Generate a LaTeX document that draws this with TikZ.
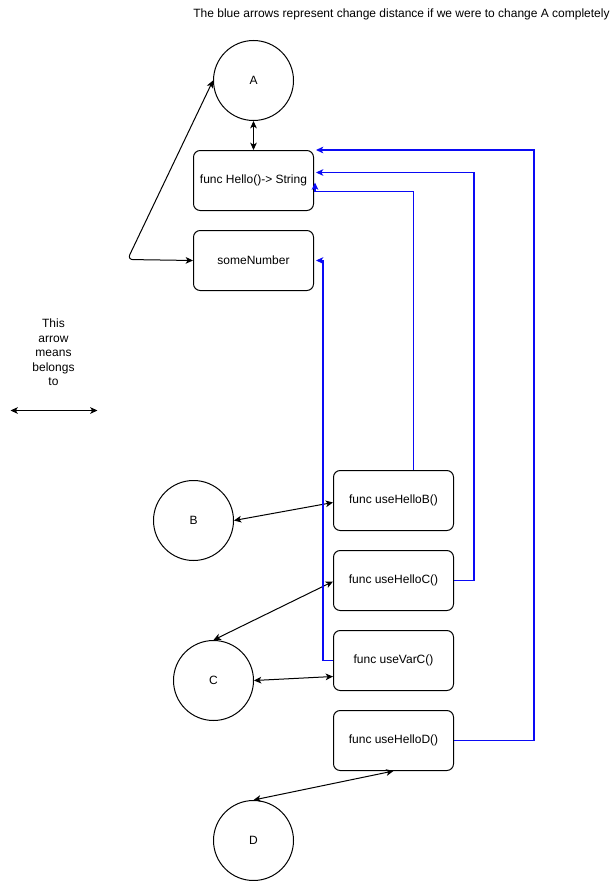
\documentclass[tikz,border=0pt]{standalone}
\usepackage{fontspec}
\setmainfont{Liberation Sans}
\usetikzlibrary{arrows.meta,calc}
\definecolor{linkblue}{RGB}{10,10,245}
\begin{document}
\begin{tikzpicture}[x=0.75pt,y=-0.75pt,
  every node/.style={font=\fontsize{9}{10.8}\selectfont},
  circ/.style={draw,circle,line width=0.75pt,minimum size=60pt,inner sep=0pt},
  fbox/.style={draw,rounded corners=5pt,line width=0.75pt,minimum width=90pt,minimum height=45pt,inner sep=0pt},
  belongs/.style={line width=0.75pt,{Stealth[length=5.5pt,width=5pt,inset=1.5pt]}-{Stealth[length=5.5pt,width=5pt,inset=1.5pt]}},
  change/.style={color=linkblue,line width=0.8pt,-{Stealth[length=5.5pt,width=5pt,inset=1.5pt]}}]
\useasboundingbox (0,0) rectangle (614,881);
\begin{scope}[shift={(0.5,0.5)}]
\node (title) at (401,14) {The blue arrows represent change distance if we were to change A completely};

\node[circ] (A) at (253,80) {A};
\node[fbox] (Hello) at (253,180) {func Hello()-> String};
\node[fbox] (sN) at (253,260) {someNumber};

\node[align=center] (legend) at (53,352) {This\\arrow\\means\\belongs\\to};
\coordinate (l1) at (10,410);
\coordinate (l2) at (97,410);
\draw[belongs] (l1) -- (l2);

\node[circ] (B) at (193,520) {B};
\node[circ] (C) at (213,680) {C};
\node[circ] (D) at (253,840) {D};

\node[fbox] (hB) at (393,500) {func useHelloB()};
\node[fbox] (hC) at (393,580) {func useHelloC()};
\node[fbox] (vC) at (393,660) {func useVarC()};
\node[fbox] (hD) at (393,740) {func useHelloD()};

% black "belongs to" arrows
\draw[belongs] (A.south) -- (Hello.north);
\coordinate (bend) at (127,259);
\draw[belongs,rounded corners=4pt] (A.west) -- (bend) -- (sN.west);
\draw[belongs] (B.east) -- ($(hB.west)+(0,2)$);
\draw[belongs] (C.north) -- ($(hC.west)+(0,1)$);
\draw[belongs] (C.east) -- ($(vC.west)+(0,16)$);
\draw[belongs] (D.north) -- (hD.south);

% blue "change distance" arrows
\draw[change] ($(hB.north)+(20,0)$) |- ($(Hello.east)+(1,11)$) -- ($(Hello.east)+(1,2)$);
\draw[change] (hC.east) -- +(20,0) |- ($(Hello.east)+(2,-8)$);
\draw[change] (hD.east) -- +(80,0) |- ($(Hello.north east)+(2,0)$);
\draw[change] (vC.west) -- +(-10,0) |- ($(sN.east)+(2,0)$);
\end{scope}
\end{tikzpicture}
\end{document}
